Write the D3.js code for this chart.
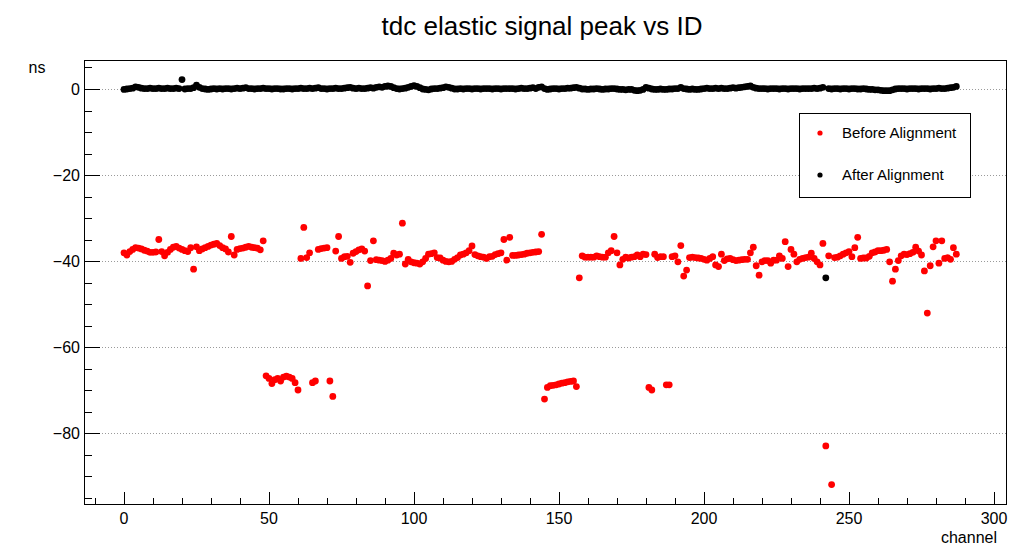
<!DOCTYPE html>
<html>
<head>
<meta charset="utf-8">
<script src="https://cdn.jsdelivr.net/npm/d3@7"></script>
<style>
  html, body { margin: 0; padding: 0; background: #fff; }
  svg { display: block; font-family: "Liberation Sans", Arial, Helvetica, sans-serif; }
</style>
</head>
<body>
<svg id="chart" width="1012" height="546"></svg>
<script>
// ---- data ----
const title = "tdc elastic signal peak vs ID";
const xTitle = "channel";
const yTitle = "ns";
const seriesNames = ["Before Alignment", "After Alignment"];
const seriesColors = ["#ff0000", "#000000"];
const xTicks = [0, 50, 100, 150, 200, 250, 300];
const yTicks = [0, -20, -40, -60, -80];

const beforeAlignment = [
  -38.1, -38.6, -37.8, -37.3, -36.9, -37.0, -37.2, -37.5, -37.7, -38.0, -38.0, -37.9,
  -35.0, -37.8, -38.8, -38.0, -37.3, -36.8, -36.6, -37.0, -37.3, -37.6, -37.8, -36.9,
  -41.9, -36.7, -37.6, -37.2, -36.9, -36.6, -36.3, -36.1, -35.9, -36.4, -36.9, -37.2,
  -37.9, -34.3, -38.6, -37.3, -37.1, -37.0, -36.8, -36.6, -36.8, -36.9, -37.0, -37.4,
  -35.3, -66.7, -67.3, -68.5, -67.6, -67.3, -67.9, -67.0, -66.8, -67.0, -67.3, -68.3,
  -70.0, -39.4, -32.2, -39.2, -38.1, -68.3, -67.9, -37.3, -37.1, -37.0, -36.9, -67.9,
  -71.5, -37.7, -34.3, -39.4, -39.0, -38.9, -40.3, -38.2, -37.8, -37.4, -37.2, -37.7,
  -45.8, -39.9, -35.3, -39.7, -39.8, -39.9, -40.1, -39.8, -39.4, -38.2, -38.6, -38.4,
  -31.2, -40.7, -39.6, -40.2, -40.4, -40.5, -40.7, -40.2, -39.4, -38.4, -38.3, -38.1,
  -39.2, -39.3, -39.8, -40.1, -40.2, -40.1, -39.6, -39.2, -38.6, -38.4, -38.1, -37.6,
  -36.5, -38.5, -38.8, -39.0, -39.1, -39.4, -39.0, -38.9, -38.5, -38.3, -38.1, -35.0,
  -39.8, -34.5, -38.7, -38.7, -38.6, -38.5, -38.4, -38.2, -38.1, -38.0, -37.9, -37.8,
  -33.8, -72.1, -69.4, -69.0, -68.9, -68.8, -68.6, -68.4, -68.3, -68.1, -68.0, -67.9,
  -69.2, -43.9, -38.8, -39.1, -39.1, -39.1, -39.1, -38.8, -39.0, -39.1, -39.1, -38.1,
  -37.6, -34.3, -38.1, -40.9, -39.6, -39.1, -39.3, -39.1, -39.0, -38.6, -39.0, -38.4,
  -38.5, -69.4, -70.0, -38.4, -39.2, -39.0, -39.0, -68.8, -68.8, -39.0, -38.8, -40.2,
  -36.4, -43.5, -42.1, -39.2, -39.1, -39.2, -39.3, -39.4, -39.6, -39.8, -39.4, -39.0,
  -40.9, -41.3, -38.4, -39.9, -39.5, -39.4, -39.7, -39.9, -39.8, -39.7, -39.6, -39.6,
  -38.1, -36.8, -41.1, -43.3, -40.2, -39.9, -39.9, -40.5, -39.8, -39.8, -38.8, -39.4,
  -35.5, -41.3, -37.3, -38.4, -40.2, -39.6, -39.4, -39.2, -39.1, -38.2, -39.4, -40.2,
  -40.9, -35.9, -83.0, -38.8, -92.0, -39.2, -39.1, -38.8, -38.4, -38.1, -37.8, -39.0,
  -36.9, -34.5, -39.4, -39.3, -39.3, -38.9, -38.1, -37.9, -37.6, -37.6, -37.5, -37.3,
  -40.2, -44.7, -41.9, -39.9, -38.8, -38.4, -38.5, -38.3, -38.0, -36.8, -37.7, -38.6,
  -42.3, -52.1, -41.1, -36.7, -35.3, -40.5, -35.3, -39.4, -39.2, -39.6, -36.9, -38.4
];

const afterAlignment = [
  -0.1, 0.0, 0.1, 0.2, 0.5, 0.4, 0.2, 0.1, 0.1, 0.2, 0.1, 0.1,
  0.2, 0.1, 0.1, 0.2, 0.1, 0.1, 0.2, 0.1, 2.2, 0.0, 0.1, 0.1,
  0.3, 0.9, 0.4, 0.1, 0.0, -0.1, 0.0, 0.1, 0.0, 0.1, 0.0, 0.1,
  0.1, 0.0, 0.1, 0.2, 0.1, 0.2, 0.3, 0.1, 0.1, 0.0, 0.1, 0.1,
  0.2, 0.1, 0.1, 0.0, 0.1, 0.1, 0.0, 0.0, 0.1, 0.1, 0.0, 0.1,
  0.1, 0.2, 0.1, 0.1, 0.2, 0.1, 0.2, 0.3, 0.1, 0.1, 0.0, 0.1,
  0.1, 0.2, 0.1, 0.1, 0.2, 0.3, 0.4, 0.2, 0.1, 0.2, 0.1, 0.1,
  0.2, 0.3, 0.2, 0.4, 0.5, 0.4, 0.6, 0.7, 0.6, 0.3, 0.1, 0.0,
  0.1, 0.2, 0.4, 0.6, 0.8, 0.6, 0.3, 0.0, -0.1, -0.2, 0.0, 0.1,
  0.1, 0.2, 0.3, 0.5, 0.4, 0.2, 0.0, 0.0, 0.1, 0.0, 0.1, 0.1,
  0.0, 0.1, 0.1, 0.0, 0.1, 0.1, 0.1, 0.0, 0.1, 0.1, 0.0, 0.1,
  0.1, 0.1, 0.1, 0.0, 0.1, 0.2, 0.1, 0.1, 0.2, 0.3, 0.1, 0.4,
  0.5, 0.1, -0.1, 0.0, 0.1, 0.1, 0.0, 0.1, 0.1, 0.2, 0.2, 0.3,
  0.4, 0.2, 0.0, 0.0, -0.1, 0.0, 0.0, 0.1, 0.0, -0.1, 0.0, 0.0,
  0.1, 0.1, 0.0, -0.1, -0.1, -0.2, -0.1, -0.1, -0.3, -0.4, -0.3, -0.1,
  0.4, 0.2, 0.0, -0.1, -0.1, 0.0, -0.1, -0.1, 0.0, 0.0, 0.1, 0.1,
  0.4, 0.1, 0.0, -0.1, 0.0, -0.1, -0.1, 0.0, 0.1, 0.2, 0.1, 0.1,
  0.2, 0.1, 0.2, 0.1, 0.1, 0.2, 0.3, 0.2, 0.3, 0.4, 0.5, 0.6,
  0.7, 0.4, 0.2, 0.1, 0.1, 0.1, 0.0, 0.1, 0.1, 0.1, 0.0, 0.1,
  0.1, 0.0, 0.1, 0.1, 0.1, 0.0, 0.1, 0.1, 0.1, 0.1, 0.2, 0.1,
  0.2, 0.4, -43.9, 0.1, 0.0, 0.1, 0.1, 0.0, 0.1, 0.1, 0.0, 0.1,
  0.1, 0.0, 0.0, 0.1, 0.0, -0.1, -0.1, -0.2, -0.2, -0.3, -0.4, -0.4,
  -0.4, -0.2, 0.0, 0.1, 0.1, 0.1, 0.0, 0.1, 0.1, 0.1, 0.0, 0.1,
  0.1, 0.1, 0.0, 0.1, 0.1, 0.2, 0.1, 0.1, 0.2, 0.3, 0.4, 0.6
];

// ---- layout ----
const frame = { left: 84, right: 1007, top: 60, bottom: 505 };
const svg = d3.select("#chart");

const x = d3.scaleLinear().domain([-13.79, 304.48]).range([frame.left, frame.right]);
const y = d3.scaleLinear().domain([6.744, -96.74]).range([frame.top, frame.bottom]);

// grid (horizontal dotted lines at major y ticks)
svg.append("g").selectAll("line").data(yTicks).join("line")
  .attr("x1", frame.left).attr("x2", frame.right)
  .attr("y1", d => Math.round(y(d)) + 0.5).attr("y2", d => Math.round(y(d)) + 0.5)
  .attr("stroke", "#9a9a9a").attr("stroke-width", 1).attr("stroke-dasharray", "1,2");

// Y axis ticks (major every 20, minor every 5)
const yMinor = d3.range(5, -100, -5).filter(v => v <= 6.744 && v >= -96.74);
svg.append("g").selectAll("line").data(yMinor).join("line")
  .attr("x1", frame.left).attr("x2", d => frame.left + (d % 20 === 0 ? 16 : 8))
  .attr("y1", d => Math.round(y(d)) + 0.5).attr("y2", d => Math.round(y(d)) + 0.5)
  .attr("stroke", "#000").attr("stroke-width", 1);

// X axis ticks (major every 50, minor every 10)
const xMinor = d3.range(-10, 310, 10).filter(v => v >= -13.79 && v <= 304.48);
svg.append("g").selectAll("line").data(xMinor).join("line")
  .attr("x1", d => Math.round(x(d)) + 0.5).attr("x2", d => Math.round(x(d)) + 0.5)
  .attr("y1", frame.bottom).attr("y2", d => frame.bottom - (d % 50 === 0 ? 13 : 7))
  .attr("stroke", "#000").attr("stroke-width", 1);

// frame
svg.append("rect")
  .attr("x", frame.left + 0.5).attr("y", frame.top + 0.5)
  .attr("width", frame.right - frame.left - 1).attr("height", frame.bottom - frame.top - 1)
  .attr("fill", "none").attr("stroke", "#000").attr("stroke-width", 1);

// tick labels
svg.append("g").selectAll("text").data(xTicks).join("text")
  .attr("x", d => x(d)).attr("y", 524)
  .attr("text-anchor", "middle").attr("font-size", 16).attr("fill", "#000")
  .text(d => d);

svg.append("g").selectAll("text").data(yTicks).join("text")
  .attr("x", 80).attr("y", d => y(d) + 6)
  .attr("text-anchor", "end").attr("font-size", 16).attr("fill", "#000")
  .text(d => d < 0 ? "\u2212" + Math.abs(d) : d);

// axis titles
svg.append("text").attr("x", 997).attr("y", 543)
  .attr("text-anchor", "end").attr("font-size", 16).text(xTitle);
svg.append("text").attr("x", 37).attr("y", 73)
  .attr("text-anchor", "middle").attr("font-size", 16).text(yTitle);

// title
svg.append("text").attr("x", 542).attr("y", 35)
  .attr("text-anchor", "middle").attr("font-size", 26).text(title);

// points
const r = 3.4;
const plot = svg.append("g");
plot.append("g").selectAll("circle").data(beforeAlignment).join("circle")
  .attr("cx", (d, i) => x(i)).attr("cy", d => y(d)).attr("r", r)
  .attr("fill", seriesColors[0]);
plot.append("g").selectAll("circle").data(afterAlignment).join("circle")
  .attr("cx", (d, i) => x(i)).attr("cy", d => y(d)).attr("r", r)
  .attr("fill", seriesColors[1]);

// legend
const lg = svg.append("g");
lg.append("rect").attr("x", 799.5).attr("y", 113.5).attr("width", 171).attr("height", 84)
  .attr("fill", "#fff").attr("stroke", "#000").attr("stroke-width", 1);
const legendY = [133, 175];
seriesNames.forEach((name, i) => {
  lg.append("circle").attr("cx", 820).attr("cy", legendY[i]).attr("r", 2.6).attr("fill", seriesColors[i]);
  lg.append("text").attr("x", 842).attr("y", legendY[i] + 5).attr("font-size", 15).text(name);
});
</script>
</body>
</html>
